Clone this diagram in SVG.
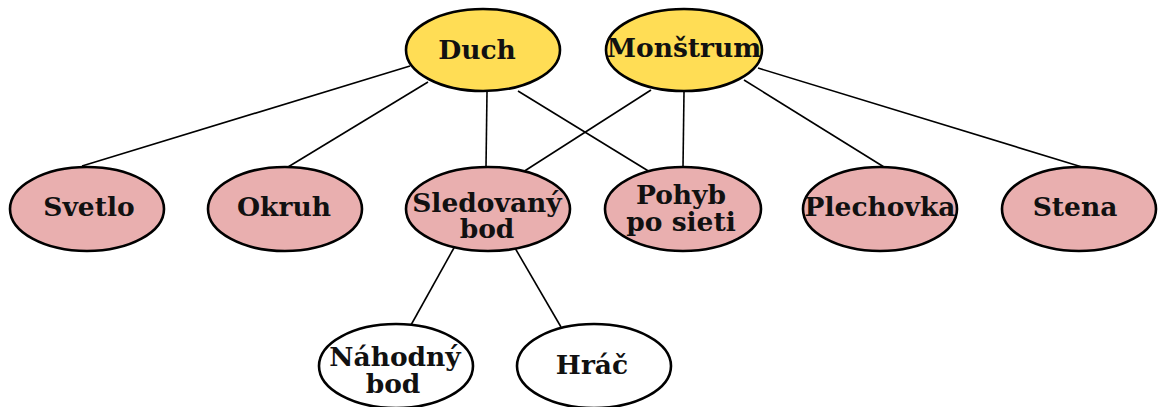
<svg xmlns="http://www.w3.org/2000/svg" width="1158" height="407" viewBox="0 0 1158 407">
<style>
.n ellipse{stroke:#000;stroke-width:2.6}
.y{fill:#ffdd55}
.p{fill:#e9afaf}
.w{fill:#ffffff}
text{font-family:"DejaVu Serif","Liberation Serif",serif;font-weight:bold;font-size:26.5px;fill:#111;text-anchor:middle}
#edges line{stroke:#000;stroke-width:1.6}
</style>
<rect width="1158" height="407" fill="#fff"/>
<g id="edges">
<line x1="410" y1="66" x2="82" y2="166"/>
<line x1="428" y1="82" x2="288" y2="167"/>
<line x1="487" y1="92" x2="486" y2="167"/>
<line x1="518" y1="91" x2="650" y2="172"/>
<line x1="651" y1="90" x2="523" y2="172"/>
<line x1="684" y1="92" x2="683" y2="167"/>
<line x1="744" y1="80" x2="884" y2="167"/>
<line x1="758" y1="68" x2="1082" y2="167"/>
<line x1="455" y1="246" x2="411" y2="325"/>
<line x1="515" y1="248" x2="561" y2="327"/>
</g>
<g id="duch" class="n"><ellipse class="y" cx="483" cy="50" rx="77" ry="41"/><text x="477" y="59">Duch</text></g>
<g id="monstrum" class="n"><ellipse class="y" cx="684" cy="50" rx="78" ry="41"/><text x="684" y="57">Monštrum</text></g>
<g id="svetlo" class="n"><ellipse class="p" cx="87" cy="209" rx="77" ry="42"/><text x="89" y="216">Svetlo</text></g>
<g id="okruh" class="n"><ellipse class="p" cx="285" cy="209" rx="77" ry="42"/><text x="284" y="216">Okruh</text></g>
<g id="sledovany" class="n"><ellipse class="p" cx="488" cy="209" rx="82" ry="42"/><text x="487" y="212">Sledovaný</text><text x="487" y="238">bod</text></g>
<g id="pohyb" class="n"><ellipse class="p" cx="683" cy="209" rx="78" ry="42"/><text x="681" y="204">Pohyb</text><text x="681" y="231">po sieti</text></g>
<g id="plechovka" class="n"><ellipse class="p" cx="880" cy="209" rx="77" ry="42"/><text x="880" y="216">Plechovka</text></g>
<g id="stena" class="n"><ellipse class="p" cx="1079" cy="209" rx="77" ry="42"/><text x="1075" y="216">Stena</text></g>
<g id="nahodny" class="n"><ellipse class="w" cx="396" cy="366" rx="77" ry="42"/><text x="395" y="366">Náhodný</text><text x="393" y="393">bod</text></g>
<g id="hrac" class="n"><ellipse class="w" cx="594" cy="366" rx="77" ry="42"/><text x="592" y="374">Hráč</text></g>
</svg>
